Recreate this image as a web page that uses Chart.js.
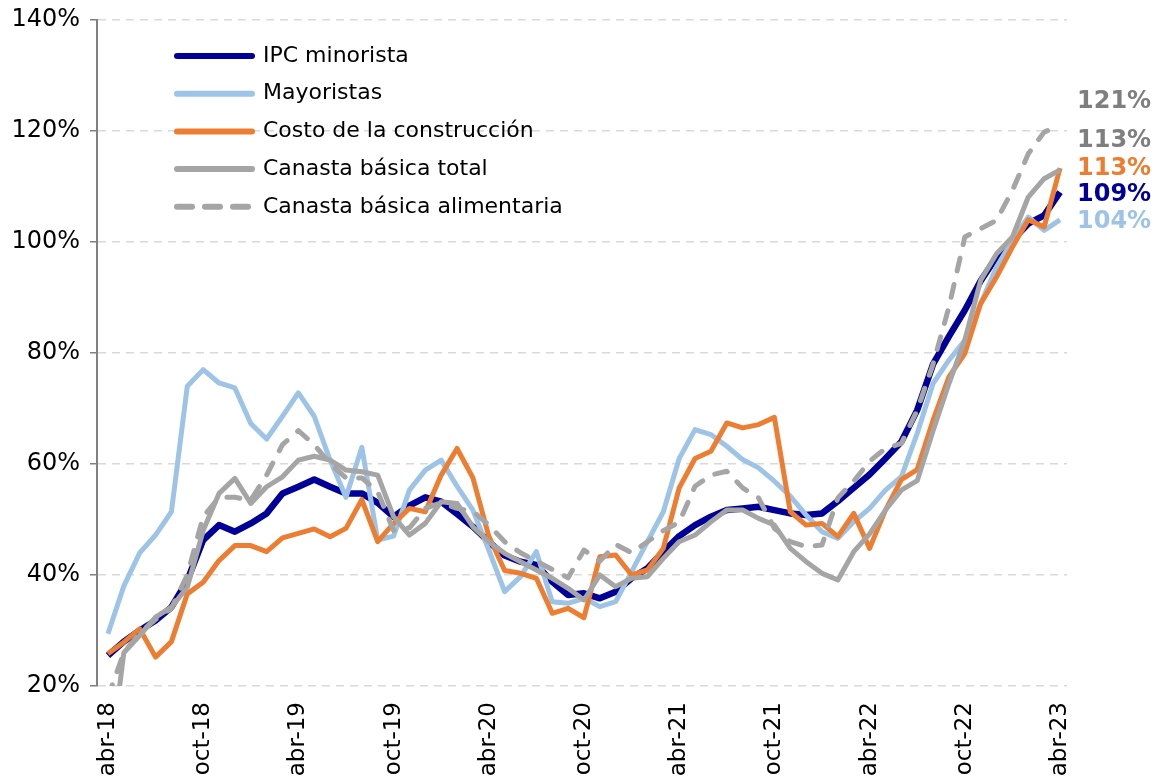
<!DOCTYPE html>
<html>
<head>
<meta charset="utf-8">
<script src="https://cdn.jsdelivr.net/npm/chart.js@4/dist/chart.umd.min.js"></script>
<style>
    body { margin: 0; background: #ffffff; }
</style>
</head>
<body>
<canvas id="grafico" width="1165" height="778"></canvas>
<script>
// ==========================
// DATOS
// ==========================
let meses = [
    "abr-18", "may-18", "jun-18", "jul-18", "ago-18", "sep-18", "oct-18", "nov-18", "dic-18",
    "ene-19", "feb-19", "mar-19", "abr-19", "may-19", "jun-19", "jul-19", "ago-19", "sep-19", "oct-19", "nov-19", "dic-19",
    "ene-20", "feb-20", "mar-20", "abr-20", "may-20", "jun-20", "jul-20", "ago-20", "sep-20", "oct-20", "nov-20", "dic-20",
    "ene-21", "feb-21", "mar-21", "abr-21", "may-21", "jun-21", "jul-21", "ago-21", "sep-21", "oct-21", "nov-21", "dic-21",
    "ene-22", "feb-22", "mar-22", "abr-22", "may-22", "jun-22", "jul-22", "ago-22", "sep-22", "oct-22", "nov-22", "dic-22",
    "ene-23", "feb-23", "mar-23", "abr-23"
];

let ipcMinorista = [25.5, 28, 30, 31.8, 34.2, 39, 46.3, 49, 47.8, 49.3, 51.1, 54.7, 55.9, 57.2, 55.9, 54.7, 54.7, 53, 50.5, 52.5,
    54, 53.2, 51, 48.7, 46, 43.5, 42.4, 41.8, 38.8, 36.4, 36.7, 35.8, 37, 39.4, 41.2, 44.2, 47, 49, 50.5, 51.7,
    52, 52.3, 51.7, 51.1, 50.8, 51.1, 53.3, 55.7, 58.1, 61, 64, 69.7, 78, 83, 87.7, 93, 97.3, 100.3, 103.3, 104.8, 109];

let mayoristas = [29.4, 38, 44, 47.2, 51.4, 74, 77, 74.6, 73.7, 67.3, 64.5, 68.6, 72.8, 68.6, 60.7, 54, 63, 46.3, 47, 55.3,
    58.9, 60.7, 56, 51.7, 44.5, 37, 39.7, 44.2, 35.2, 34.9, 35.8, 34.3, 35.2, 40.6, 46, 51.4, 61, 66.2, 65.3, 63.2,
    60.8, 59.3, 56.9, 54.2, 50.8, 47.8, 46.6, 49.6, 52, 55.3, 57.7, 65.5, 74.5, 78.7, 82.3, 88.9, 95.5, 100.3, 104.5, 102.1, 104];

let costoConstruccion = [25.8, 27.9, 30.3, 25.2, 28, 36.6, 38.7, 42.6, 45.3, 45.3, 44.2, 46.7, 47.5, 48.3, 46.9, 48.4, 53.6, 46, 49.3, 52,
    51.4, 58, 62.8, 57.5, 47, 40.8, 40.3, 39.4, 33.1, 34, 32.3, 43.3, 43.6, 40, 40.9, 44.8, 55.7, 61, 62.3, 67.4,
    66.5, 67.1, 68.4, 51.4, 49, 49.3, 46.9, 51.1, 44.8, 51.7, 57.2, 59, 67.9, 75.7, 79.9, 88.9, 93.7, 99.1, 104, 102.7, 113.3];

let canastaTotal = [3, 26, 29.1, 32.4, 34.2, 37.8, 48, 54.7, 57.4, 52.9, 55.9, 57.7, 60.7, 61.4, 60.7, 58.9, 58.6, 58, 50.5, 47.2,
    49.3, 53.2, 52.9, 48.7, 46, 43.9, 42.4, 40.9, 39.4, 37.6, 35.5, 40, 37.9, 39.4, 39.7, 43, 46, 47.2, 49.6, 51.7,
    51.7, 50.2, 49, 44.8, 42.4, 40.3, 39.1, 44.2, 47.4, 51.7, 55.3, 57, 66, 74.5, 82.3, 93.1, 97.9, 100.9, 108.1, 111.4, 113];

let canastaAlimentaria = [18, 26, 29.5, 32, 34, 40, 50.5, 54, 54, 53.5, 58, 63.5, 66, 63.5, 60, 57.5, 57.5, 55, 48, 48.5,
    52, 53, 52, 51.5, 49, 46, 44, 42.5, 41, 39.5, 44.5, 42.5, 45.5, 44, 46, 48, 49.5, 56, 58, 58.7,
    55.7, 53.9, 48.4, 46, 45.1, 45.4, 53.9, 56.9, 60.5, 62.8, 63.7, 69.7, 78, 88.3, 100.9, 102.4, 103.9, 109.3, 115.9, 119.8, 121];

let nombres = ["IPC minorista", "Mayoristas", "Costo de la construcción", "Canasta básica total", "Canasta básica alimentaria"];

// ==========================
// ESTILOS
// ==========================
let colores = ["#000099", "#9DC3E6", "#ED7D31", "#A5A5A5", "#A5A5A5"];
let coloresEtiqueta = ["#000099", "#9DC3E6", "#ED7D31", "#7F7F7F", "#7F7F7F"];
let grosores = [6.5, 5, 5, 5, 5];
let guiones = [[], [], [], [], [13, 14]];
let ajusteEtiqueta = [3, 2, 1, -29, -24];

let series = [ipcMinorista, mayoristas, costoConstruccion, canastaTotal, canastaAlimentaria];

function puntos(valores) {
    let lista = [];
    for (let i = 0; i < valores.length; i++) {
        lista.push({ x: i, y: valores[i] });
    }
    return lista;
}

let datasets = [];
for (let i = 0; i < series.length; i++) {
    datasets.push({
        label: nombres[i],
        data: puntos(series[i]),
        borderColor: colores[i],
        borderWidth: grosores[i],
        borderDash: guiones[i],
        borderCapStyle: guiones[i].length ? "round" : "butt",
        borderJoinStyle: "round",
        pointRadius: 0,
        tension: 0,
        fill: false,
        order: series.length - i,
        clip: { left: 10, top: 10, right: 10, bottom: 0 }
    });
}

// ==========================
// LEYENDA Y ETIQUETAS FINALES
// ==========================
const leyenda = {
    id: "leyenda",
    afterDraw(chart) {
        let ctx = chart.ctx;
        ctx.save();
        ctx.font = "22px 'DejaVu Sans'";
        ctx.textBaseline = "middle";
        ctx.fillStyle = "#000000";
        for (let i = 0; i < nombres.length; i++) {
            let y = 56 + i * 37.7;
            ctx.beginPath();
            ctx.strokeStyle = colores[i];
            ctx.lineWidth = 6;
            ctx.lineCap = "round";
            ctx.setLineDash(guiones[i].length ? [15, 13] : []);
            ctx.moveTo(177, y);
            ctx.lineTo(i === 4 ? 248 : 252, y);
            ctx.stroke();
            ctx.setLineDash([]);
            ctx.fillText(nombres[i], 263, y);
        }

        // valores del último mes
        let escalaY = chart.scales.y;
        ctx.font = "bold 24px 'DejaVu Sans'";
        for (let i = 0; i < series.length; i++) {
            let ultimo = series[i][series[i].length - 1];
            let y = escalaY.getPixelForValue(ultimo) + ajusteEtiqueta[i];
            ctx.fillStyle = coloresEtiqueta[i];
            ctx.fillText(Math.round(ultimo) + "%", 1077, y);
        }
        ctx.restore();
    }
};

// ==========================
// GRAFICO
// ==========================
let ctx = document.getElementById("grafico").getContext("2d");

new Chart(ctx, {
    type: "line",
    data: { datasets: datasets },
    plugins: [leyenda],
    options: {
        responsive: false,
        animation: false,
        devicePixelRatio: 1,
        layout: { padding: { top: 20, right: 98, left: 0, bottom: 0 } },
        plugins: {
            legend: { display: false },
            tooltip: { enabled: false }
        },
        scales: {
            x: {
                type: "linear",
                min: -0.69,
                max: 60.44,
                grid: { display: false, drawTicks: false },
                border: { display: false },
                afterFit: function (scale) {
                    scale.height = 92;
                    scale.paddingLeft = 0;
                    scale.paddingRight = 0;
                },
                ticks: {
                    stepSize: 6,
                    includeBounds: false,
                    autoSkip: false,
                    minRotation: 90,
                    maxRotation: 90,
                    padding: 16,
                    color: "#000000",
                    font: { family: "'DejaVu Sans'", size: 23 },
                    callback: function (value) {
                        if (Number.isInteger(value) && value % 6 === 0) return meses[value];
                        return "";
                    }
                }
            },
            y: {
                min: 20,
                max: 140,
                afterFit: function (scale) {
                    scale.width = 97;
                    scale.paddingTop = 0;
                    scale.paddingBottom = 0;
                },
                grid: {
                    color: "#D9D9D9",
                    lineWidth: 1.5,
                    tickColor: "#808080",
                    tickLength: 7,
                    tickWidth: 1.5
                },
                border: { display: true, color: "#808080", width: 2, dash: [8, 6] },
                ticks: {
                    stepSize: 20,
                    padding: 10,
                    color: "#000000",
                    font: { family: "'DejaVu Sans'", size: 24 },
                    callback: function (value) { return value + "%"; }
                }
            }
        }
    }
});
</script>
</body>
</html>
